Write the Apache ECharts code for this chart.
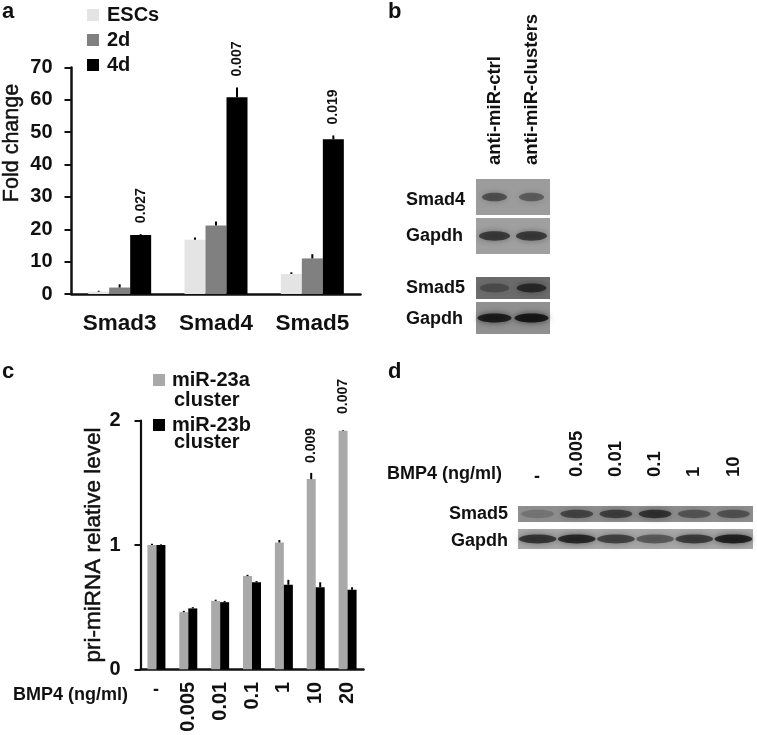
<!DOCTYPE html>
<html><head><meta charset="utf-8">
<style>html,body{margin:0;padding:0;background:#fff}#c{width:757px;height:735px;filter:blur(0.7px)}</style>
<script src="https://cdn.jsdelivr.net/npm/echarts@6/dist/echarts.min.js"></script>
</head><body><div id="c"></div>
<script>
// Panel a
const genes = ['Smad3','Smad4','Smad5'];
const escs = [0.7,16.8,6.2];
const d2 = [2.0,21.2,11.0];
const d4 = [18.2,60.8,47.8];
const escsErr = [0.3,0.7,0.5];
const d2Err = [1.0,1.2,1.3];
const d4Err = [0.3,3.0,1.2];
const pA = ['0.027','0.007','0.019'];
// Panel c
const doses = ['-','0.005','0.01','0.1','1','10','20'];
const mirA = [1.0,0.46,0.55,0.75,1.02,1.53,1.92];
const mirB = [1.0,0.49,0.54,0.70,0.68,0.66,0.64];
const mirAErr = [0.01,0.01,0.01,0.01,0.02,0.05,0.005];
const mirBErr = [0.005,0.01,0.01,0.01,0.04,0.04,0.02];
const pC = ['','','','','','0.009','0.007'];
// Blots: band darkness per lane
const lanesB = ['anti-miR-ctrl','anti-miR-clusters'];
const lanesD = ['-','0.005','0.01','0.1','1','10'];
const bSmad4 = [0.45,0.38];
const bGapdh1 = [0.58,0.58];
const bSmad5 = [0.28,0.58];
const bGapdh2 = [0.75,0.78];
const dSmad5 = [0.18,0.48,0.52,0.6,0.38,0.4];
const dGapdh = [0.62,0.7,0.55,0.42,0.58,0.74];

const FONT = '"Liberation Sans",Arial,sans-serif';
const INK = '#111';

function errSeries(name, grid, vals, errs, idx, n, bw, labels, gapOf){
  return {type:'custom', name, xAxisIndex:grid, yAxisIndex:grid, z:5, silent:true, clip:false,
    data: vals.map((v,i)=>[i,v,errs[i]]),
    encode:{x:0,y:1},
    renderItem(params,api){
      const i = params.dataIndex;
      const x = api.coord([api.value(0),0])[0] + (idx-(n-1)/2)*bw;
      const y0 = api.coord([0,api.value(1)])[1];
      const y1 = api.coord([0,api.value(1)+api.value(2)])[1];
      const kids = [{type:'line',shape:{x1:x,y1:y0,x2:x,y2:y1},style:{stroke:'#000',lineWidth:2}}];
      if(labels && labels[i]){
        kids.push({type:'text',x:x,y:y1-gapOf(i),rotation:Math.PI/2,
          style:{text:labels[i],fill:INK,font:'bold 14px '+FONT,align:'left',verticalAlign:'middle'}});
      }
      return {type:'group',children:kids};
    }};
}
function blotSeries(grid, vals, wFrac, ryFrac){
  return {type:'custom', xAxisIndex:grid, yAxisIndex:grid, silent:true, z:3,
    data: vals.map((v,i)=>[i,0.5,v]),
    encode:{x:0,y:1},
    renderItem(params,api){
      const c = api.coord([api.value(0),api.value(1)]);
      const sz = api.size([1,1]);
      const col = 'rgba(5,5,5,'+api.value(2)+')';
      return {type:'ellipse',shape:{cx:c[0],cy:c[1],rx:sz[0]*wFrac,ry:sz[1]*ryFrac},
        style:{fill:col,shadowBlur:6,shadowColor:col}};
    }};
}
const blots = [
 {left:476,top:179,w:74,h:36,bg:'#9c9c9c',vals:bSmad4,lanes:lanesB,wf:0.34,rf:0.12},
 {left:476,top:218,w:74,h:36,bg:'#a0a0a0',vals:bGapdh1,lanes:lanesB,wf:0.42,rf:0.13},
 {left:476,top:277,w:74,h:22,bg:'#6b6b6b',vals:bSmad5,lanes:lanesB,wf:0.4,rf:0.2},
 {left:476,top:302,w:74,h:32,bg:'#909090',vals:bGapdh2,lanes:lanesB,wf:0.46,rf:0.14},
 {left:518,top:506,w:235,h:16,bg:'#8e8e8e',vals:dSmad5,lanes:lanesD,wf:0.42,rf:0.26},
 {left:518,top:529,w:235,h:20,bg:'#a8a8a8',vals:dGapdh,lanes:lanesD,wf:0.48,rf:0.22}
];

const grids = [
 {left:71.5,top:67.5,width:289,height:226.5,outerBoundsMode:'none'},
 {left:140.5,top:420.7,width:223,height:248.6,outerBoundsMode:'none'}
];
const xAxes = [
 {gridIndex:0,type:'category',data:genes,
  axisLine:{lineStyle:{color:'#111',width:2.5}},axisTick:{show:false},
  axisLabel:{color:INK,fontFamily:FONT,fontWeight:'bold',fontSize:22.5,margin:18}},
 {gridIndex:1,type:'category',data:doses,
  axisLine:{lineStyle:{color:'#111',width:2.5}},axisTick:{show:false},
  axisLabel:{color:INK,fontFamily:FONT,fontWeight:'bold',fontSize:20,rotate:90,margin:12.5,
    formatter:v=>v==='-'?'':v}}
];
const yAxes = [
 {gridIndex:0,type:'value',min:0,max:70,interval:10,
  splitLine:{show:false},
  axisLine:{show:true,lineStyle:{color:'#111',width:2.5}},
  axisTick:{show:true,length:7,lineStyle:{color:'#111',width:2}},
  axisLabel:{color:INK,fontFamily:FONT,fontWeight:'bold',fontSize:20,margin:19}},
 {gridIndex:1,type:'value',min:0,max:2,interval:1,name:'pri-miRNA relative level',nameLocation:'middle',nameGap:35,
  nameTextStyle:{color:INK,fontFamily:FONT,fontSize:22.5,fontWeight:'normal',textBorderColor:INK,textBorderWidth:0.5},
  splitLine:{show:false},
  axisLine:{show:true,lineStyle:{color:'#111',width:2.2}},
  axisTick:{show:true,length:6,lineStyle:{color:'#111',width:2}},
  axisLabel:{color:INK,fontFamily:FONT,fontWeight:'bold',fontSize:20,margin:20}}
];
const series = [
 {type:'bar',name:'ESCs',xAxisIndex:0,yAxisIndex:0,data:escs,barWidth:21,barGap:0,itemStyle:{color:'#e4e4e4'}},
 {type:'bar',name:'2d',xAxisIndex:0,yAxisIndex:0,data:d2,barWidth:21,barGap:0,itemStyle:{color:'#808080'}},
 {type:'bar',name:'4d',xAxisIndex:0,yAxisIndex:0,data:d4,barWidth:21,barGap:0,itemStyle:{color:'#000'}},
 errSeries('eA1',0,escs,escsErr,0,3,21),
 errSeries('eA2',0,d2,d2Err,1,3,21),
 errSeries('eA3',0,d4,d4Err,2,3,21,pA,()=>11),
 {type:'bar',name:'miR-23a cluster',xAxisIndex:1,yAxisIndex:1,data:mirA,barWidth:9,barGap:0,itemStyle:{color:'#a9a9a9'}},
 {type:'bar',name:'miR-23b cluster',xAxisIndex:1,yAxisIndex:1,data:mirB,barWidth:9,barGap:0,itemStyle:{color:'#000'}},
 errSeries('eC1',1,mirA,mirAErr,0,2,9,pC,i=>i===6?16:10),
 errSeries('eC2',1,mirB,mirBErr,1,2,9)
];
blots.forEach((b,k)=>{
  const gi = grids.length;
  grids.push({left:b.left,top:b.top,width:b.w,height:b.h,show:true,backgroundColor:b.bg,borderWidth:0,outerBoundsMode:'none'});
  const first = k===0 || k===4;
  xAxes.push({gridIndex:gi,type:'category',data:b.lanes,position:'top',
    axisLine:{show:false},axisTick:{show:false},
    axisLabel:{show:first,interval:0,rotate:90,color:INK,fontFamily:FONT,fontWeight:'bold',fontSize:18.5,
      margin:k===0?14:29,formatter:v=>v==='-'?'':v}});
  yAxes.push({gridIndex:gi,type:'value',min:0,max:1,show:false});
  series.push(blotSeries(gi,b.vals,b.wf,b.rf));
});

function txt(text,x,y,o){
  return Object.assign({type:'text',x,y,style:Object.assign({text,fill:INK,font:'bold 18px '+FONT,align:'left',verticalAlign:'middle'},o||{})});
}
const big = {font:'bold 22px '+FONT};
const leg = {font:'bold 20px '+FONT};
const foldTitle = Object.assign(
  txt('Fold change',12,143,{font:'21.5px '+FONT,align:'center',stroke:INK,lineWidth:0.5}),
  {rotation:Math.PI/2});
const gfx = [
 txt('a',2,12,big),txt('b',388,12,big),txt('c',2,372,big),txt('d',388,372,big),
 foldTitle,
 txt('BMP4 (ng/ml)',13,695),txt('BMP4 (ng/ml)',387,474),
 txt('-',156,690,{align:'center'}),txt('-',537,477,{align:'center'}),
 txt('cluster',174,400,leg),txt('cluster',174,442,leg),
 txt('Smad4',406,200),txt('Gapdh',406,236),txt('Smad5',406,288),txt('Gapdh',406,319),
 txt('Smad5',508,514,{align:'right'}),txt('Gapdh',508,541,{align:'right'})
];

const chart = echarts.init(document.getElementById('c'),null,{renderer:'canvas'});
chart.setOption({
  animation:false,backgroundColor:'#fff',
  grid:grids,xAxis:xAxes,yAxis:yAxes,series,graphic:gfx,
  legend:[
   {data:['ESCs','2d','4d'],orient:'vertical',left:87,top:5,padding:0,itemWidth:12,itemHeight:12,itemGap:5,
    icon:'rect',selectedMode:false,textStyle:{color:INK,fontFamily:FONT,fontWeight:'bold',fontSize:20,padding:[0,0,0,3]}},
   {data:['miR-23a cluster','miR-23b cluster'],orient:'vertical',left:153,top:370,padding:0,itemWidth:12,itemHeight:12,itemGap:25,
    icon:'rect',selectedMode:false,formatter:n=>n.split(' ')[0],
    textStyle:{color:INK,fontFamily:FONT,fontWeight:'bold',fontSize:20,padding:[0,0,0,2]}}
  ]
});
</script></body></html>
